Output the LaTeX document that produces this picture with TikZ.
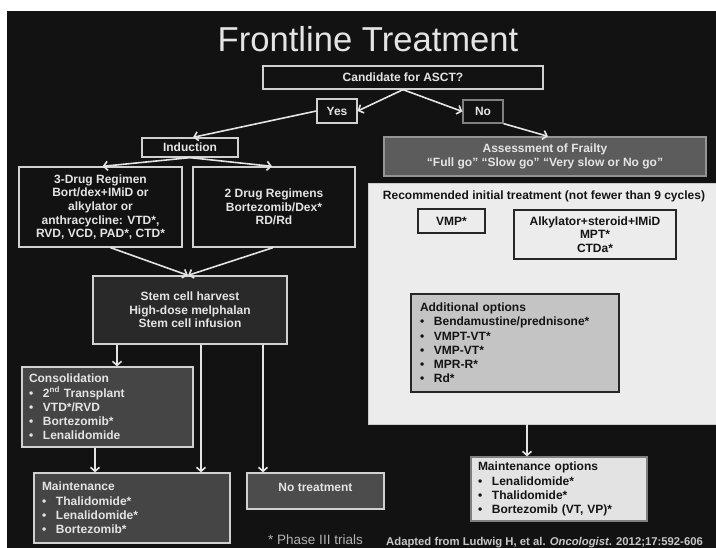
\documentclass[tikz,border=0pt]{standalone}
\usepackage{fontspec}
\setmainfont{Liberation Sans}
\usetikzlibrary{arrows.meta}
\definecolor{slide}{HTML}{121212}
\definecolor{pale}{HTML}{E4E4E4}
\definecolor{panelgray}{HTML}{ECECEC}
\newcommand{\bul}{\makebox[14pt][l]{\textbullet}}
\tikzset{
	boxtext/.style={font=\fontsize{12}{13.6}\selectfont\bfseries, align=center, inner sep=0pt},
	darkbox/.style={boxtext, draw=black!18, line width=1.3pt, fill=slide, text=pale},
	greybox/.style={boxtext, draw=black!18, line width=1.3pt, fill=black!73, text=pale},
	listbox/.style={align=left, inner xsep=7pt, font=\fontsize{12}{14.2}\selectfont\bfseries},
	lightbox/.style={boxtext, draw=black!85, line width=1.3pt, fill=panelgray, text=black!92},
	arr/.style={draw=pale, line width=1.6pt, -{Straight Barb[length=4pt,width=9pt]}}
}

\begin{document}
\begin{tikzpicture}[x=1pt,y=-1pt]
		%%%%% START %%%%%
		\useasboundingbox (0,0) rectangle (716,548);
		\fill[white] (0,0) rectangle (716,548);
		\fill[slide] (7,11) rectangle (716,548);
		
		\node[font=\fontsize{34.6}{40}\selectfont, text=pale, anchor=base] (title) at (368,52) {Frontline Treatment};
		
		% decision
		\node[darkbox, minimum width=280pt, minimum height=23pt] (cand) at (403,77.5) {Candidate for ASCT?};
		\node[darkbox, minimum width=40pt, minimum height=24pt] (yes) at (337,111) {Yes};
		\node[darkbox, draw=black!50, minimum width=40pt, minimum height=23pt] (no) at (483,111.5) {No};
		\draw[arr] (cand.south) -- (yes.east);
		\draw[arr] (cand.south) -- (no.west);
		
		% transplant side
		\node[darkbox, minimum width=96pt, minimum height=19pt] (induction) at (190,147.5) {Induction};
		\draw[arr] (yes.west) -- ([xshift=3pt]induction.north);
		
		\node[darkbox, minimum width=163pt, minimum height=80pt] (drugthree) at (100.5,207) {3-Drug Regimen\\Bort/dex+IMiD or\\alkylator or\\anthracycline: VTD*,\\RVD, VCD, PAD*, CTD*};
		\node[darkbox, minimum width=162pt, minimum height=80pt] (drugtwo) at (274,207) {2 Drug Regimens\\Bortezomib/Dex*\\RD/Rd};
		\draw[arr] (induction.south) -- ([xshift=2pt]drugthree.north);
		\draw[arr] (induction.south) -- ([xshift=-2pt]drugtwo.north);
		
		\node[darkbox, fill=black!84, minimum width=194pt, minimum height=68pt] (stem) at (190,310) {Stem cell harvest\\High-dose melphalan\\Stem cell infusion};
		\draw[arr] ([xshift=10pt]drugthree.south) -- ([xshift=-2pt]stem.north);
		\draw[arr] ([xshift=-1pt]drugtwo.south) -- ([xshift=-2pt]stem.north);
		
		\node[greybox, listbox, text width=157pt, minimum height=80pt] (cons) at (107.5,407) {Consolidation\\\bul 2\textsuperscript{nd} Transplant\\\bul VTD*/RVD\\\bul Bortezomib*\\\bul Lenalidomide};
		\node[greybox, listbox, text width=180pt, inner xsep=8pt, minimum height=70pt] (maint) at (132,508) {Maintenance\\\bul Thalidomide*\\\bul Lenalidomide*\\\bul Bortezomib*};
		\node[greybox, fill=black!70, minimum width=137pt, minimum height=36pt] (notreat) at (315.5,491) {};
		\node[boxtext, text=pale] (notreatlbl) at (315.5,487) {No treatment};
		
		\draw[arr] ([xshift=9.5pt]cons.north |- stem.south) -- ([xshift=9.5pt]cons.north);
		\draw[arr] ([xshift=69pt]maint.north |- stem.south) -- ([xshift=69pt]maint.north);
		\draw[arr] ([xshift=-52.5pt]notreat.north |- stem.south) -- ([xshift=-52.5pt]notreat.north);
		\draw[arr] ([xshift=-12.5pt]cons.south) -- ([xshift=-37pt]maint.north);
		
		% non-transplant side
		\node[greybox, draw=black!42, fill=black!64, minimum width=322pt, minimum height=39pt] (assess) at (545,156.5) {Assessment of Frailty\\“Full go” “Slow go” “Very slow or No go”};
		\draw[arr] (no.south east) -- ([xshift=3pt]assess.north);
		
		\node[draw=black!20, fill=panelgray, minimum width=348pt, minimum height=241pt, inner sep=0pt] (panel) at (542,303.5) {};
		\node[boxtext, text=black!92] (rechead) at (544,196) {Recommended initial treatment (not fewer than 9 cycles)};
		\node[lightbox, minimum width=67pt, minimum height=24pt] (vmp) at (451.5,221) {VMP*};
		\node[lightbox, minimum width=162pt, minimum height=49pt] (alky) at (595,234.5) {Alkylator+steroid+IMiD\\MPT*\\CTDa*};
		\node[lightbox, listbox, fill=black!23, text width=190pt, inner xsep=9pt, minimum height=98pt] (addopt) at (515,343) {Additional options\\\bul Bendamustine/prednisone*\\\bul VMPT-VT*\\\bul VMP-VT*\\\bul MPR-R*\\\bul Rd*};
		
		\node[lightbox, listbox, draw=black!50, fill=black!11, text width=162pt, minimum height=64pt] (mainopt) at (559,489) {Maintenance options\\\bul Lenalidomide*\\\bul Thalidomide*\\\bul Bortezomib (VT, VP)*};
		\draw[arr] ([xshift=-32pt]mainopt.north |- panel.south) -- ([xshift=-32pt]mainopt.north);
		
		% footnotes
		\node[font=\fontsize{13.5}{15}\selectfont, text=black!30, inner sep=0pt] (phase) at (315.5,540) {* Phase III trials};
		\node[font=\fontsize{11.3}{13}\selectfont\bfseries, text=black!22, anchor=west, inner sep=0pt] (cite) at (386,543) {Adapted from Ludwig H, et al. \textit{Oncologist}. 2012;17:592-606};
		%%%%% END %%%%%
	\end{tikzpicture}
\end{document}
